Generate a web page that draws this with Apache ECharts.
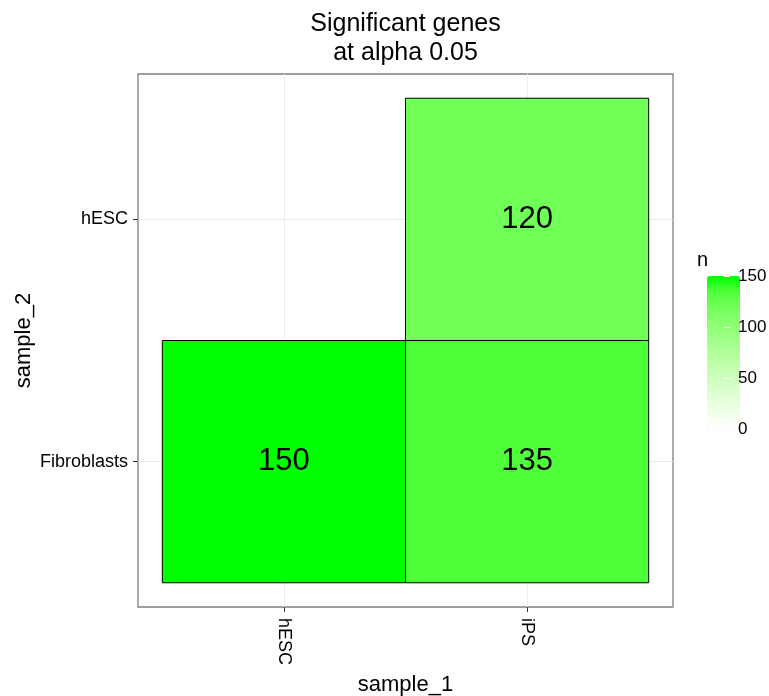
<!DOCTYPE html>
<html>
<head>
<meta charset="utf-8">
<script src="https://cdn.jsdelivr.net/npm/echarts@6/dist/echarts.min.js"></script>
<style>
  html, body { margin: 0; padding: 0; background: #fff; }
  #chart { width: 769px; height: 696px; }
</style>
</head>
<body>
<div id="chart"></div>
<script>
// categories
const sample1 = ["hESC", "iPS"];
const sample2 = ["Fibroblasts", "hESC"];
// tiles: [sample_1 index, sample_2 index, n]
const tiles = [
  [0, 0, 150],
  [1, 0, 135],
  [1, 1, 120]
];
const legendTicks = [0, 50, 100, 150];
// white -> green gradient (interpolated in Lab, like ggplot)
const fillStops = ["#FFFFFF", "#F1FFEB", "#E2FFD7", "#D3FFC3", "#C3FFAF", "#B1FF9A",
                   "#9EFF85", "#89FF6F", "#70FF57", "#4FFF3A", "#00FF00"];

const font = "'Liberation Sans', Arial, Helvetica, sans-serif";
const chart = echarts.init(document.getElementById("chart"));

// category index -> axis position (1, 2)
const pos = [1, 2];

chart.setOption({
  animation: false,
  textStyle: { fontFamily: font },
  title: {
    text: "Significant genes\nat alpha 0.05",
    left: 400.5,
    top: 5,
    textAlign: "center",
    textStyle: { fontSize: 25, fontWeight: "normal", color: "#000", lineHeight: 29, fontFamily: font }
  },
  grid: [
    { left: 138, top: 74, width: 535, height: 533, show: true, borderColor: "#7f7f7f", borderWidth: 1.3,
      backgroundColor: "#fff", outerBoundsMode: "none" },
    { left: 697, top: 276, width: 33, height: 153, outerBoundsMode: "none" }
  ],
  xAxis: [
    {
      gridIndex: 0, type: "value", min: 0.4, max: 2.6,
      name: "sample_1", nameLocation: "middle", nameGap: 67, nameMoveOverlap: false,
      nameTextStyle: { fontSize: 22, color: "#000" },
      axisLine: { show: false },
      axisTick: { show: true, customValues: pos, length: 5, lineStyle: { color: "#333" } },
      axisLabel: {
        customValues: pos, rotate: -90, fontSize: 18, color: "#000", margin: 11,
        formatter: v => sample1[Math.round(v) - 1]
      },
      splitLine: { show: true, lineStyle: { color: "#ebebeb", width: 1 } }
    },
    { gridIndex: 1, type: "value", min: 0, max: 1, show: false }
  ],
  yAxis: [
    {
      gridIndex: 0, type: "value", min: 0.4, max: 2.6,
      name: "sample_2", nameLocation: "middle", nameGap: 103, nameRotate: 90, nameMoveOverlap: false,
      nameTextStyle: { fontSize: 22, color: "#000" },
      axisLine: { show: false },
      axisTick: { show: true, customValues: pos, length: 5, lineStyle: { color: "#333" } },
      axisLabel: {
        customValues: pos, fontSize: 18, color: "#000", margin: 10,
        formatter: v => sample2[Math.round(v) - 1]
      },
      splitLine: { show: true, lineStyle: { color: "#ebebeb", width: 1 } }
    },
    {
      gridIndex: 1, type: "value", min: 0, max: 150, interval: 50, position: "left", z: 10,
      name: "n", nameLocation: "end", nameGap: 6,
      nameTextStyle: { fontSize: 20, color: "#000", align: "left", verticalAlign: "bottom" },
      axisLine: { show: false },
      axisTick: { show: true, inside: true, length: 6, lineStyle: { color: "#fff", width: 1 } },
      axisLabel: { show: false },
      splitLine: { show: false }
    },
    {
      gridIndex: 1, type: "value", min: 0, max: 150, interval: 50, position: "right", z: 10,
      axisLine: { show: false },
      axisTick: { show: true, inside: true, length: 6, lineStyle: { color: "#fff", width: 1 } },
      axisLabel: { show: true, fontSize: 17, color: "#000", margin: 8, customValues: legendTicks },
      splitLine: { show: false }
    }
  ],
  visualMap: {
    type: "continuous",
    min: 0, max: 150,
    dimension: 2,
    seriesIndex: 0,
    calculable: false,
    hoverLink: false,
    left: 692, top: 261,
    itemWidth: 33, itemHeight: 153,
    inRange: { color: fillStops },
    textStyle: { color: "transparent" }
  },
  series: [
    {
      type: "custom",
      xAxisIndex: 0, yAxisIndex: 0,
      data: tiles.map(t => [pos[t[0]], pos[t[1]], t[2]]),
      encode: { x: 0, y: 1 },
      renderItem: function (params, api) {
        const x = api.value(0), y = api.value(1);
        const p0 = api.coord([x - 0.5, y + 0.5]);
        const p1 = api.coord([x + 0.5, y - 0.5]);
        return {
          type: "rect",
          shape: { x: p0[0], y: p0[1], width: p1[0] - p0[0], height: p1[1] - p0[1] },
          style: { fill: api.visual("color"), stroke: "#000", lineWidth: 1 },
          textContent: {
            style: { text: String(api.value(2)), fontSize: 31, fill: "#000", fontFamily: font }
          },
          textConfig: { position: "inside" }
        };
      }
    }
  ]
});
</script>
</body>
</html>
